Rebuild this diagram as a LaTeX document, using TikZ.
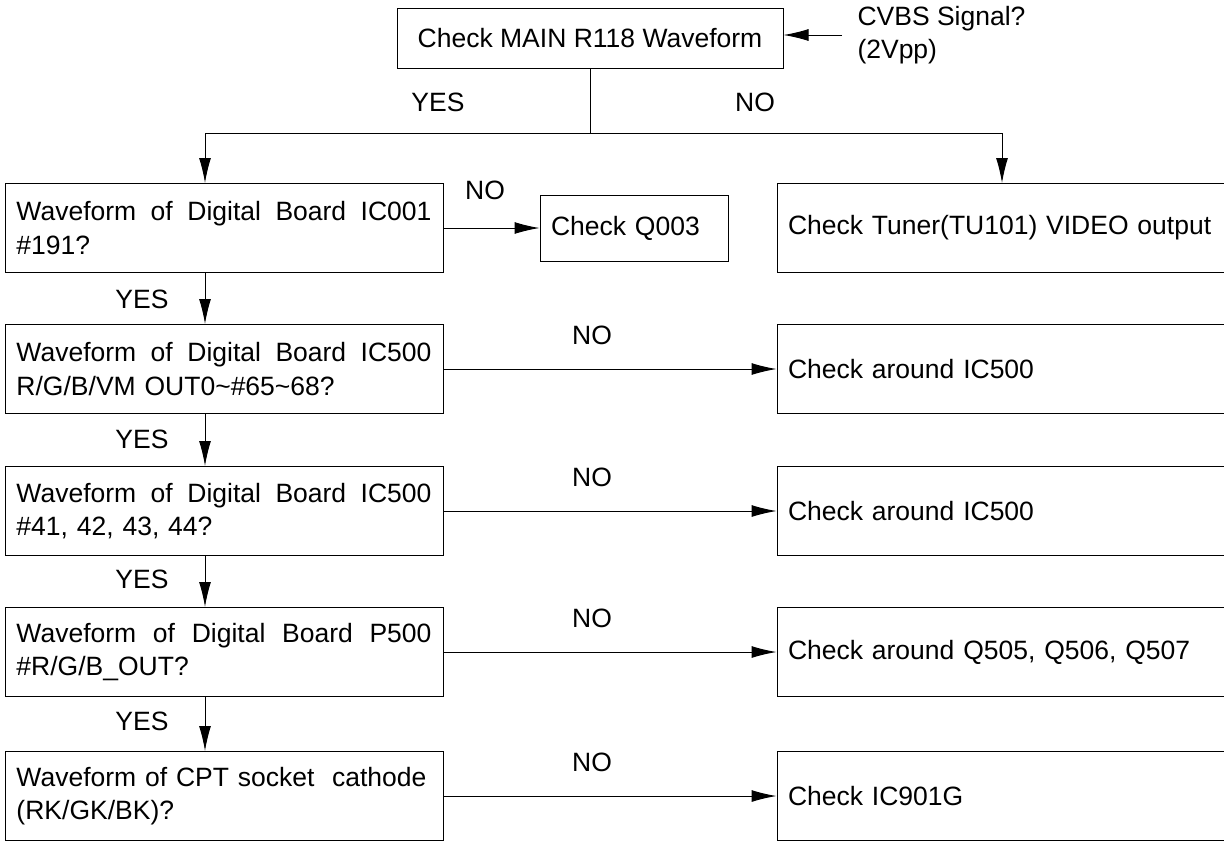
\documentclass[tikz,border=0pt]{standalone}
\usepackage{fontspec}
\setmainfont{Liberation Sans}
\usetikzlibrary{arrows.meta}

\newcommand{\spreadline}[1]{{\spaceskip=\fontdimen2\font plus 1fil\relax\makebox[207.5pt][s]{#1}}}

\begin{document}
\begin{tikzpicture}[x=0.5pt,y=-0.5pt,line width=0.5pt,
		>={Latex[length=12.5pt,width=6pt]},
		every node/.style={font=\fontsize{13.25}{16.75}\selectfont},
		box/.style={draw,rectangle,minimum height=44.5pt},
		testbox/.style={box,text width=207.5pt,inner xsep=5.75pt,align=left},
		fixbox/.style={box,text width=215pt,inner xsep=5.5pt,align=left}]
		\useasboundingbox (0,0) rectangle (1224,841);

		\node[box,minimum width=193pt,minimum height=30pt] (main) at (590,38) {Check MAIN R118 Waveform};
		\node[anchor=west,align=left,inner xsep=7.5pt,inner ysep=0pt] (cvbs) at (842,35) {CVBS Signal?\\(2Vpp)};

		\node[testbox] (wf1) at (224,228) {\spreadline{Waveform of Digital Board IC001}\\\#191?};
		\node[testbox] (wf2) at (224,369) {\spreadline{Waveform of Digital Board IC500}\\R/G/B/VM OUT0\textasciitilde\#65\textasciitilde68?};
		\node[testbox] (wf3) at (224,511) {\spreadline{Waveform of Digital Board IC500}\\\#41, 42, 43, 44?};
		\node[testbox] (wf4) at (224,652) {\spreadline{Waveform of Digital Board P500}\\\#R/G/B\_OUT?};
		\node[testbox] (wf5) at (224,796) {Waveform of CPT socket\ \ cathode\\(RK/GK/BK)?};

		\node[box,minimum height=33pt,text width=83pt,inner xsep=5.5pt,align=left] (q003) at (634,228) {Check Q003};
		\node[fixbox] (tuner) at (1003,228) {Check Tuner(TU101) VIDEO output};
		\node[fixbox] (fix2) at (1003,369) {Check around IC500};
		\node[fixbox] (fix3) at (1003,511) {Check around IC500};
		\node[fixbox] (fix4) at (1003,652) {Check around Q505, Q506, Q507};
		\node[fixbox] (fix5) at (1003,796) {Check IC901G};

		\node (yes0) at (438,102) {YES};
		\node (no0) at (755,102) {NO};
		\node (no1) at (485,190) {NO};
		\node (yes1) at (142,299) {YES};
		\node (yes2) at (142,439) {YES};
		\node (yes3) at (142,579) {YES};
		\node (yes4) at (142,721) {YES};
		\node (no2) at (592,335) {NO};
		\node (no3) at (592,477) {NO};
		\node (no4) at (592,618) {NO};
		\node (no5) at (592,762) {NO};

		\coordinate (split) at (590,133);
		\coordinate (yesturn) at (205,133);
		\coordinate (noturn) at (1002,133);

		\draw [->] (cvbs.west) -- (cvbs.west -| main.east);
		\draw (main) -- (split);
		\draw [->] (split) -- (yesturn) -- (yesturn |- wf1.north);
		\draw [->] (split) -- (noturn) -- (noturn |- tuner.north);

		\draw [->] (wf1.south -| yesturn) -- (wf2.north -| yesturn);
		\draw [->] (wf2.south -| yesturn) -- (wf3.north -| yesturn);
		\draw [->] (wf3.south -| yesturn) -- (wf4.north -| yesturn);
		\draw [->] (wf4.south -| yesturn) -- (wf5.north -| yesturn);

		\draw [->] (wf1) -- (q003);
		\draw [->] (wf2) -- (fix2);
		\draw [->] (wf3) -- (fix3);
		\draw [->] (wf4) -- (fix4);
		\draw [->] (wf5) -- (fix5);
\end{tikzpicture}
\end{document}
